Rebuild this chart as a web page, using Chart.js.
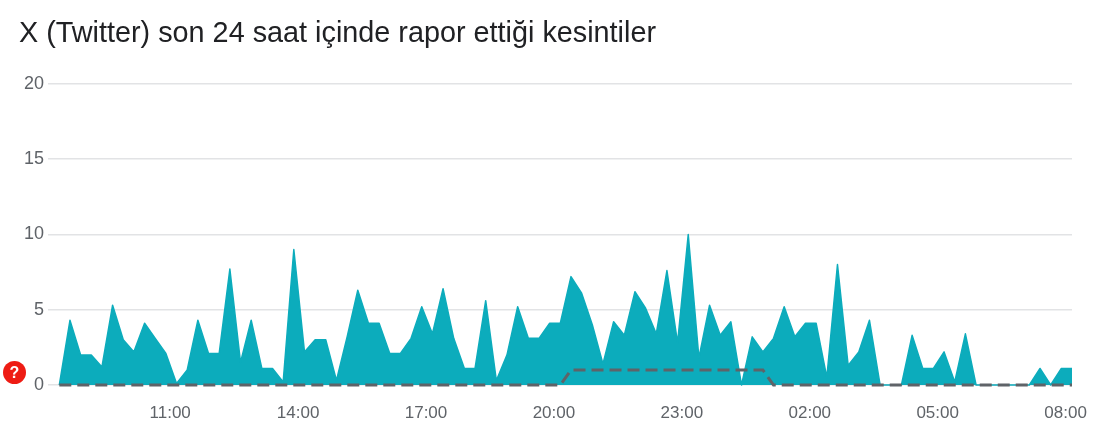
<!DOCTYPE html>
<html lang="tr">
<head>
<meta charset="utf-8">
<title>X (Twitter) kesintiler</title>
<script src="https://cdn.jsdelivr.net/npm/chart.js@4/dist/chart.umd.min.js"></script>
<style>
  body { margin: 0; background: #fff; }
  #wrap { position: relative; width: 1114px; height: 435px; }
  #help {
    position: absolute; left: 3px; top: 361px; width: 23px; height: 23px;
    border-radius: 50%; background: #ee1c14; color: #fff;
    font: bold 16px/23px "Liberation Sans", sans-serif; text-align: center;
  }
</style>
</head>
<body>
<div id="wrap">
  <canvas id="chart" width="1114" height="435"></canvas>
  <div id="help">?</div>
</div>
<script>
const chartTitle = 'X (Twitter) son 24 saat içinde rapor ettiği kesintiler';

// one value every 15 minutes
const reports = [
  0, 4.3, 2, 2, 1.2, 5.3, 3, 2.2, 4.1, 3.1, 2.1, 0.1,
  1, 4.3, 2.1, 2.1, 7.7, 1.5, 4.3, 1.1, 1.1, 0.2, 9, 2.2,
  3, 3, 0.3, 3.2, 6.3, 4.1, 4.1, 2.1, 2.1, 3.1, 5.2, 3.4,
  6.4, 3.1, 1.1, 1.1, 5.6, 0.3, 2, 5.2, 3.1, 3.1, 4.1, 4.1,
  7.2, 6.1, 4, 1.4, 4.2, 3.3, 6.2, 5.1, 3.4, 7.6, 2.8, 10,
  1.8, 5.3, 3.3, 4.2, 0, 3.2, 2.2, 3.1, 5.2, 3.2, 4.1, 4.1,
  0.5, 8, 1.3, 2.2, 4.3, 0, 0, 0, 3.3, 1.1, 1.1, 2.2,
  0.2, 3.4, 0, 0, 0, 0, 0, 0, 1.1, 0, 1.1, 1.1
];
const baseline = [
  0, 0, 0, 0, 0, 0, 0, 0, 0, 0, 0, 0,
  0, 0, 0, 0, 0, 0, 0, 0, 0, 0, 0, 0,
  0, 0, 0, 0, 0, 0, 0, 0, 0, 0, 0, 0,
  0, 0, 0, 0, 0, 0, 0, 0, 0, 0, 0, 0,
  1, 1, 1, 1, 1, 1, 1, 1, 1, 1, 1, 1,
  1, 1, 1, 1, 1, 1, 1, 0, 0, 0, 0, 0,
  0, 0, 0, 0, 0, 0, 0, 0, 0, 0, 0, 0,
  0, 0, 0, 0, 0, 0, 0, 0, 0, 0, 0, 0
];
const timeLabels = ['11:00', '14:00', '17:00', '20:00', '23:00', '02:00', '05:00', '08:00'];
const timeTicks = [10.4, 22.4, 34.4, 46.4, 58.4, 70.4, 82.4, 94.4];
const yTicks = [0, 5, 10, 15, 20];

const toPoints = values => values.map((y, x) => ({ x, y }));

new Chart(document.getElementById('chart'), {
  type: 'line',
  data: {
    datasets: [
      {
        data: toPoints(baseline),
        borderColor: '#5f6368',
        borderWidth: 3,
        borderDash: [12, 6],
        pointRadius: 0,
        fill: false,
        clip: false,
        order: 1
      },
      {
        data: toPoints(reports),
        borderColor: '#0cacbc',
        borderWidth: 1.5,
        borderJoinStyle: 'round',
        backgroundColor: '#0cacbc',
        pointRadius: 0,
        fill: 'origin',
        clip: false,
        order: 2
      }
    ]
  },
  options: {
    responsive: false,
    animation: false,
    layout: { padding: { right: 42, left: 19, top: 0, bottom: 0 } },
    plugins: {
      legend: { display: false },
      tooltip: { enabled: false },
      title: {
        display: true,
        text: chartTitle,
        align: 'start',
        color: '#202124',
        font: { family: '"Liberation Sans", Arial, sans-serif', size: 28.8, weight: 'normal' },
        padding: { top: 17, bottom: 32.4 }
      }
    },
    scales: {
      x: {
        type: 'linear',
        min: -1.06,
        max: 95,
        grid: { display: false },
        border: { display: false },
        afterBuildTicks: axis => {
          axis.ticks = timeTicks.map(value => ({ value }));
        },
        afterFit: axis => { axis.height = 50; },
        ticks: {
          autoSkip: false,
          maxRotation: 0,
          color: '#5f6368',
          padding: 10,
          font: { family: '"Liberation Sans", Arial, sans-serif', size: 17 },
          callback: value => timeLabels[timeTicks.indexOf(value)]
        }
      },
      y: {
        min: 0,
        max: 20,
        afterBuildTicks: axis => {
          axis.ticks = yTicks.map(value => ({ value }));
        },
        afterFit: axis => { axis.width = 29; },
        grid: { color: '#e2e3e5', lineWidth: 1.5, drawTicks: false },
        border: { display: false },
        ticks: {
          color: '#5f6368',
          padding: 4,
          font: { family: '"Liberation Sans", Arial, sans-serif', size: 18 }
        }
      }
    }
  }
});
</script>
</body>
</html>
